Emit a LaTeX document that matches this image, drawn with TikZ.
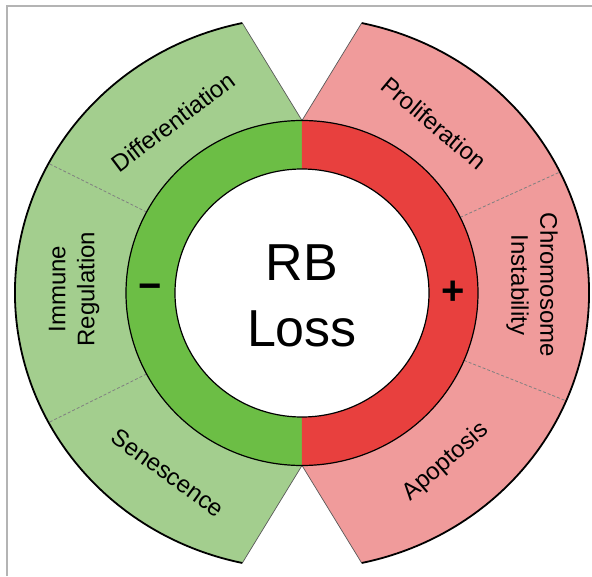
\documentclass[tikz,border=0pt]{standalone}
\usepackage{fontspec}
\setmainfont{Liberation Sans}
\definecolor{leafgreen}{RGB}{163,206,142}
\definecolor{ringgreen}{RGB}{108,190,69}
\definecolor{ringred}{RGB}{232,64,62}
\definecolor{leafred}{RGB}{240,155,155}
\definecolor{framegray}{RGB}{180,180,180}
\tikzset{
  rim/.style={line width=1.8pt,black},
  sideedge/.style={line width=0.7pt,black!65},
  splitline/.style={densely dashed,line width=0.8pt,black!50},
  leaflabel/.style={font=\fontsize{24}{29}\selectfont,align=center,inner sep=0pt},
  signlabel/.style={font=\fontsize{40}{40}\selectfont\bfseries,inner sep=0pt}
}
\begin{document}
\begin{tikzpicture}[x=1pt,y=1pt]
\useasboundingbox (-302,-283) rectangle (290,293);
\fill[white] (-302,-283) rectangle (290,293);
% frame
\draw[framegray,line width=2pt] (-295,-283) -- (-295,287) -- (290,287);
% left leaf
\fill[leafgreen] (90:176pt and 172.5pt) -- (102:287pt and 276pt)
  arc[start angle=102,end angle=258,x radius=287pt,y radius=276pt]
  -- (270:176pt and 172.5pt)
  arc[start angle=270,end angle=90,x radius=176pt,y radius=172.5pt] -- cycle;
% right leaf
\fill[leafred] (90:176pt and 172.5pt) -- (78:287pt and 276pt)
  arc[start angle=78,end angle=-78,x radius=287pt,y radius=276pt]
  -- (-90:176pt and 172.5pt)
  arc[start angle=-90,end angle=90,x radius=176pt,y radius=172.5pt] -- cycle;
% leaf edges
\draw[sideedge] (102:287pt and 276pt) -- (90:176pt and 172.5pt) -- (78:287pt and 276pt);
\draw[sideedge] (258:287pt and 276pt) -- (270:176pt and 172.5pt) -- (282:287pt and 276pt);
\draw[rim] (102:287pt and 276pt) arc[start angle=102,end angle=258,x radius=287pt,y radius=276pt];
\draw[rim] (78:287pt and 276pt) arc[start angle=78,end angle=-78,x radius=287pt,y radius=276pt];
% dividers
\foreach \a in {152,208,26,-23}
  \draw[splitline] (\a:176pt and 172.5pt) -- (\a:287pt and 276pt);
% ring
\fill[ringgreen] (90:176pt and 172.5pt)
  arc[start angle=90,end angle=270,x radius=176pt,y radius=172.5pt]
  -- (270:127pt and 124pt)
  arc[start angle=270,end angle=90,x radius=127pt,y radius=124pt] -- cycle;
\fill[ringred] (90:176pt and 172.5pt)
  arc[start angle=90,end angle=-90,x radius=176pt,y radius=172.5pt]
  -- (-90:127pt and 124pt)
  arc[start angle=-90,end angle=90,x radius=127pt,y radius=124pt] -- cycle;
\draw[line width=1.2pt] (0,0) ellipse[x radius=176pt,y radius=172.5pt];
\draw[line width=1.2pt,fill=white] (0,0) ellipse[x radius=127pt,y radius=124pt];
% labels
\node[font=\fontsize{52}{66}\selectfont,align=center] (rbloss) at (0,-3) {RB\\Loss};
\node[signlabel] (minus) at (-152,1) {−};
\node[signlabel] (plus) at (151,0) {+};
\node[leaflabel,rotate=37] (diff) at (-129,171) {Differentiation};
\node[leaflabel,rotate=90] (immune) at (-228,4) {Immune\\Regulation};
\node[leaflabel,rotate=-36] (senes) at (-134,-180) {Senescence};
\node[leaflabel,rotate=-40] (prolif) at (132,170) {Proliferation};
\node[leaflabel,rotate=-90] (chromo) at (230,8) {Chromosome\\Instability};
\node[leaflabel,rotate=41] (apopt) at (144,-169) {Apoptosis};
\end{tikzpicture}
\end{document}
